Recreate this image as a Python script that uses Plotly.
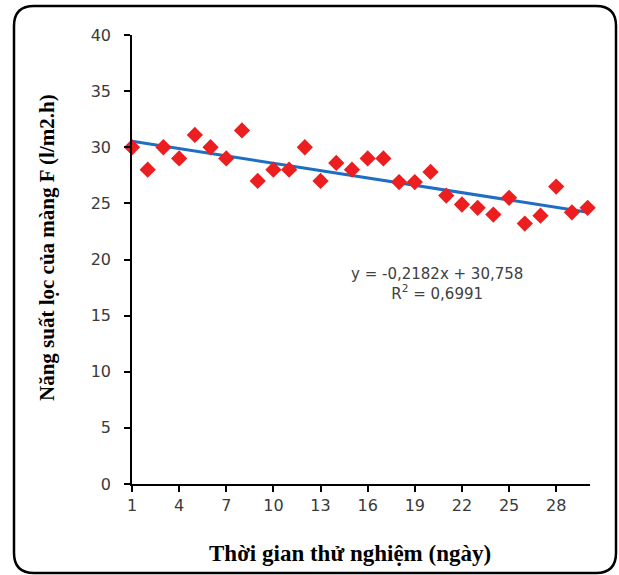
import plotly.graph_objects as go

# ---- data ----
days = list(range(1, 31))
flux = [30.0, 28.0, 30.0, 29.0, 31.1, 30.0, 29.0, 31.5, 27.0, 28.0,
        28.0, 30.0, 27.0, 28.6, 28.0, 29.0, 29.0, 26.9, 26.9, 27.8,
        25.7, 24.9, 24.6, 24.0, 25.5, 23.2, 23.9, 26.5, 24.2, 24.6]
x_tickvals = [1, 4, 7, 10, 13, 16, 19, 22, 25, 28]
y_tickvals = [0, 5, 10, 15, 20, 25, 30, 35, 40]
trend_slope = -0.2182
trend_intercept = 30.758
trend_eq_text = "y = -0,2182x + 30,758"
trend_r2_text = "R<sup>2</sup> = 0,6991"
x_title = "Thời gian thử nghiệm (ngày)"
y_title = "Năng suất lọc của màng F (l/m2.h)"

# ---- layout geometry (pixels) ----
W, H = 619, 575
ML, MR, MT, MB = 132, 29, 35, 91
PW, PH = W - ML - MR, H - MT - MB


def px_to_paper(px, py):
    return (px - ML) / PW, (H - MB - py) / PH


def rounded_rect_path(l, t, r, b, rad):
    pts = [
        ("M", [(l + rad, t)]),
        ("L", [(r - rad, t)]),
        ("Q", [(r, t), (r, t + rad)]),
        ("L", [(r, b - rad)]),
        ("Q", [(r, b), (r - rad, b)]),
        ("L", [(l + rad, b)]),
        ("Q", [(l, b), (l, b - rad)]),
        ("L", [(l, t + rad)]),
        ("Q", [(l, t), (l + rad, t)]),
    ]
    s = ""
    for cmd, ps in pts:
        s += cmd + " " + " ".join("%.5f,%.5f" % px_to_paper(*p) for p in ps) + " "
    return s + "Z"


trend_x = [days[0], days[-1]]
trend_y = [trend_slope * v + trend_intercept for v in trend_x]

fig = go.Figure()
fig.add_trace(go.Scatter(
    x=trend_x, y=trend_y, mode="lines",
    line=dict(color="rgb(30,110,195)", width=3),
    hoverinfo="skip", showlegend=False,
))
fig.add_trace(go.Scatter(
    x=days, y=flux, mode="markers",
    marker=dict(symbol="diamond", size=12.5, color="rgb(236,30,32)",
                line=dict(width=0)),
    cliponaxis=False, showlegend=False,
))

fig.add_annotation(
    x=20.4, y=17.8, xref="x", yref="y",
    text=trend_eq_text + "<br>" + trend_r2_text,
    showarrow=False, align="center",
    font=dict(family="DejaVu Sans", size=15, color="#404040"),
)

fig.add_annotation(
    x=(350 - ML) / PW, y=(H - MB - 553) / PH, xref="paper", yref="paper",
    xanchor="center", yanchor="middle",
    text="<b>" + x_title + "</b>", showarrow=False,
    font=dict(family="Liberation Serif", size=23, color="black"),
)
fig.add_annotation(
    x=(47 - ML) / PW, y=(H - MB - 248) / PH, xref="paper", yref="paper",
    xanchor="center", yanchor="middle",
    text="<b>" + y_title + "</b>", showarrow=False, textangle=-90,
    font=dict(family="Liberation Serif", size=21, color="black"),
)

fig.add_shape(
    type="path", xref="paper", yref="paper",
    path=rounded_rect_path(14, 6, 616, 573, 20),
    line=dict(color="black", width=2.5), layer="above",
)

fig.update_layout(
    width=W, height=H,
    margin=dict(l=ML, r=MR, t=MT, b=MB, pad=0),
    paper_bgcolor="white", plot_bgcolor="white",
    font=dict(family="DejaVu Sans", size=15, color="#404040"),
    xaxis=dict(
        range=[1, 30.15], tickmode="array", tickvals=x_tickvals,
        ticks="outside", ticklen=6, tickwidth=1.5, tickcolor="black",
        showline=True, linecolor="black", linewidth=1.5,
        showgrid=False, zeroline=False,
        tickfont=dict(family="DejaVu Sans", size=16, color="#3a3a3a"),
    ),
    yaxis=dict(
        range=[0, 40], tickmode="array", tickvals=y_tickvals,
        ticks="outside", ticklen=6, tickwidth=1.5, tickcolor="black",
        showline=True, linecolor="black", linewidth=1.5,
        showgrid=False, zeroline=False, ticklabelstandoff=10,
        tickfont=dict(family="DejaVu Sans", size=16, color="#3a3a3a"),
    ),
)

fig.write_html(
    "out.html",
    config={"displayModeBar": False},
    post_script="document.body.style.margin='0';document.body.style.overflow='hidden';",
)
